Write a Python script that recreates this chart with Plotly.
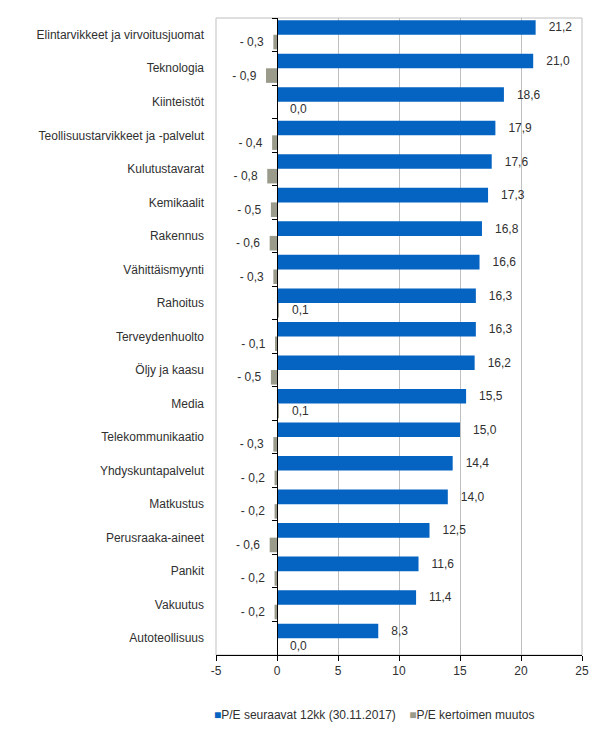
import plotly.graph_objects as go

categories = [
    "Elintarvikkeet ja virvoitusjuomat", "Teknologia", "Kiinteistöt",
    "Teollisuustarvikkeet ja -palvelut", "Kulutustavarat", "Kemikaalit",
    "Rakennus", "Vähittäismyynti", "Rahoitus", "Terveydenhuolto",
    "Öljy ja kaasu", "Media", "Telekommunikaatio", "Yhdyskuntapalvelut",
    "Matkustus", "Perusraaka-aineet", "Pankit", "Vakuutus", "Autoteollisuus",
]
pe_values = [21.2, 21.0, 18.6, 17.9, 17.6, 17.3, 16.8, 16.6, 16.3, 16.3,
             16.2, 15.5, 15.0, 14.4, 14.0, 12.5, 11.6, 11.4, 8.3]
change_values = [-0.3, -0.9, 0.0, -0.4, -0.8, -0.5, -0.6, -0.3, 0.1, -0.1,
                 -0.5, 0.1, -0.3, -0.2, -0.2, -0.6, -0.2, -0.2, 0.0]
x_ticks = [-5, 0, 5, 10, 15, 20, 25]
x_tick_labels = ["-5", "0", "5", "10", "15", "20", "25"]

series_names = ["P/E seuraavat 12kk (30.11.2017)", "P/E kertoimen muutos"]
BLUE = "#0563C1"
GRAY = "#9B9B8C"
TXT = "#303030"
FONT = "Liberation Sans, Arial, sans-serif"
NB = "\u00a0"


def fmt(v):
    s = f"{abs(v):.1f}".replace(".", ",")
    if v < 0:
        return "-" + NB + s + NB * 2
    return NB * 3 + s


fig = go.Figure()
fig.add_trace(go.Bar(
    y=categories, x=pe_values, orientation="h", name=series_names[0],
    marker=dict(color=BLUE, line=dict(width=0)),
    text=[fmt(v) for v in pe_values], textposition="outside",
    textfont=dict(size=12, color=TXT, family=FONT), cliponaxis=False,
    showlegend=False,
))
fig.add_trace(go.Bar(
    y=categories, x=change_values, orientation="h", name=series_names[1],
    marker=dict(color=GRAY, line=dict(width=0)),
    text=[fmt(v) for v in change_values], textposition="outside",
    textfont=dict(size=12, color=TXT, family=FONT), cliponaxis=False,
    showlegend=False,
))
# axis at zero with boundary ticks
fig.add_trace(go.Scatter(
    y=categories, x=[0] * len(categories), yaxis="y2", mode="markers",
    marker=dict(opacity=0), showlegend=False, hoverinfo="skip",
))

legend_text = (
    f"<span style='color:{BLUE}'>■</span>{series_names[0]}" + NB * 4 +
    f"<span style='color:{GRAY}'>■</span>{series_names[1]}"
)

n = len(categories)
fig.update_layout(
    width=611, height=734,
    margin=dict(l=208, r=37, t=10, b=87, autoexpand=False),
    paper_bgcolor="white", plot_bgcolor="white",
    font=dict(family=FONT, size=12, color=TXT),
    barmode="group", bargap=0.13, bargroupgap=0,
    showlegend=False,
    xaxis=dict(
        range=[-5, 25], tickvals=x_ticks, ticktext=x_tick_labels,
        showgrid=True, gridcolor="#BFBFBF",
        gridwidth=1, zeroline=False, showline=True, linecolor="black",
        linewidth=1, ticks="outside", ticklen=5, tickcolor="black",
        tickfont=dict(size=12, color=TXT), automargin=False,
    ),
    yaxis=dict(
        categoryorder="array", categoryarray=categories,
        range=[n - 0.5, -0.5], showgrid=False, zeroline=False,
        showline=False, ticks="", ticklabelstandoff=11,
        tickfont=dict(size=12, color=TXT), automargin=False,
    ),
    yaxis2=dict(
        overlaying="y", anchor="free", position=1 / 6,
        categoryorder="array", categoryarray=categories,
        range=[n - 0.5, -0.5], showgrid=False, zeroline=False,
        showline=True, linecolor="black", linewidth=1,
        ticks="outside", ticklen=5, tickcolor="black", tickson="boundaries",
        showticklabels=False, automargin=False,
    ),
    annotations=[dict(
        text=legend_text, xref="paper", yref="paper", x=-0.01, y=-0.094,
        xanchor="left", yanchor="middle", showarrow=False,
        font=dict(size=12, color=TXT, family=FONT),
    )],
    shapes=[dict(type="rect", xref="paper", yref="paper", x0=0, x1=1,
                 y0=0, y1=1, line=dict(color="#BFBFBF", width=1),
                 layer="below")],
)

fig.write_html("out.html")
